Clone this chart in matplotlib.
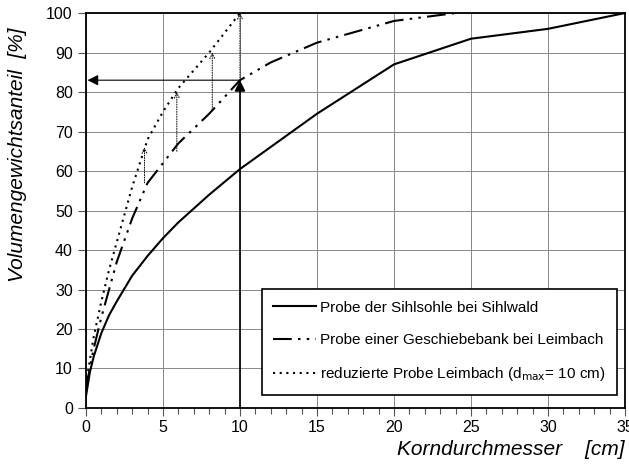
import numpy as np
import matplotlib.pyplot as plt

# Probe der Sihlsohle bei Sihlwald
x_sihl = [0, 0.25, 0.5, 1, 1.5, 2, 3, 4, 5, 6, 8, 10, 15, 20, 25, 30, 35]
y_sihl = [3, 9, 13, 19, 23.5, 27, 33.5, 38.5, 43, 47, 54, 60.5, 74.5, 87, 93.5, 96, 100]

# Probe einer Geschiebebank bei Leimbach
x_leim = [0, 0.25, 0.5, 1, 1.5, 2, 3, 4, 5, 6, 8, 10, 12, 15, 20, 24]
y_leim = [5, 10, 15, 23, 30, 37, 48, 57, 62, 67, 74.5, 83, 87.5, 92.5, 98, 100]

# reduzierte Probe Leimbach (dmax = 10 cm)
x_red = [0, 0.25, 0.5, 1, 1.5, 2, 3, 4, 5, 6, 8, 10]
y_red = [6, 12, 18, 27, 35, 42, 56, 68, 75, 81, 90, 100]

# vertical shift arrows (x, from, to)
arrow_x = [3.8, 5.9, 8.2, 10]
arrow_from = [57, 65, 75.5, 83]
arrow_to = [66, 80, 90, 100]

plt.rcParams['font.family'] = ['Liberation Sans', 'DejaVu Sans']

fig = plt.figure(figsize=(6.29, 4.66), dpi=100)
ax = fig.add_axes([0.1367, 0.1245, 0.8569, 0.8475])

ax.plot(x_sihl, y_sihl, 'k-', lw=1.5, label='Probe der Sihlsohle bei Sihlwald')
ax.plot(x_leim, y_leim, color='k', lw=1.5, dashes=(9, 3, 1.2, 3, 1.2, 3),
        label='Probe einer Geschiebebank bei Leimbach')
ax.plot(x_red, y_red, color='k', lw=1.5, linestyle=(0, (1, 2.2)),
        label='reduzierte Probe Leimbach (d$_{\\mathrm{max}}$= 10 cm)')

# thin dotted arrows from the Leimbach curve up to the reduced curve
for xa, y0, y1 in zip(arrow_x, arrow_from, arrow_to):
    ax.annotate('', xy=(xa, y1), xytext=(xa, y0),
                arrowprops=dict(arrowstyle='->', color='k', lw=0.7,
                                linestyle=(0, (1, 1.5)),
                                mutation_scale=9, shrinkA=0, shrinkB=0))

# solid arrow up at d = 10 cm and back to the y axis
ax.annotate('', xy=(10, 83), xytext=(10, 0),
            arrowprops=dict(arrowstyle='-|>', color='k', lw=1.2,
                            mutation_scale=16, shrinkA=0, shrinkB=0))
ax.annotate('', xy=(0.1, 83), xytext=(10, 83),
            arrowprops=dict(arrowstyle='-|>', color='k', lw=0.8,
                            mutation_scale=16, shrinkA=0, shrinkB=0))

ax.set_xlim(0, 35)
ax.set_ylim(0, 100)
ax.set_xticks(np.arange(0, 36, 5))
ax.set_xticks(np.arange(0, 36, 1), minor=True)
ax.set_yticks(np.arange(0, 101, 10))
ax.grid(True, color='#888888', lw=0.7)
ax.set_axisbelow(True)
for s in ax.spines.values():
    s.set_linewidth(1.3)
ax.tick_params(axis='both', which='major', direction='out', length=6,
               width=0.8, labelsize=11.5, color='#555555')
ax.tick_params(axis='x', which='minor', direction='out', length=4,
               width=0.8, color='#555555')
ax.tick_params(axis='x', pad=3)

ax.set_xlabel('Korndurchmesser    [cm]', fontsize=15, style='italic')
ax.xaxis.set_label_coords(1.0, -0.08)
ax.xaxis.label.set_horizontalalignment('right')
ax.set_ylabel('Volumengewichtsanteil  [%]', fontsize=15, style='italic')
ax.yaxis.set_label_coords(-0.11, 0.64)

leg = ax.legend(loc='lower right', bbox_to_anchor=(0.986, 0.033),
                fontsize=11, handlelength=2.8, labelspacing=1.2,
                borderpad=0.75, borderaxespad=0, fancybox=False, framealpha=1,
                edgecolor='k', handletextpad=0.3)
leg.get_frame().set_linewidth(1.2)

fig.savefig('out.png', dpi=100)
